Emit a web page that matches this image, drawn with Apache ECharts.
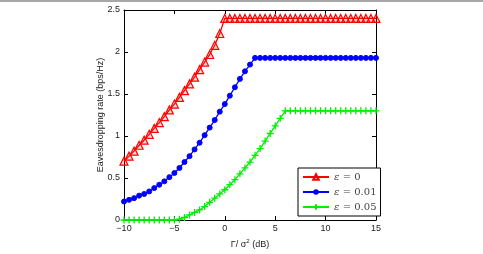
<!DOCTYPE html>
<html><head><meta charset="utf-8">
<script src="https://cdn.jsdelivr.net/npm/echarts@6/dist/echarts.min.js"></script>
<style>html,body{margin:0;padding:0;background:#fff}#c{width:483px;height:254px}</style>
</head><body><div id="c"></div>
<script>
const xValues = [-10,-9.5,-9,-8.5,-8,-7.5,-7,-6.5,-6,-5.5,-5,-4.5,-4,-3.5,-3,-2.5,-2,-1.5,-1,-0.5,0,0.5,1,1.5,2,2.5,3,3.5,4,4.5,5,5.5,6,6.5,7,7.5,8,8.5,9,9.5,10,10.5,11,11.5,12,12.5,13,13.5,14,14.5,15];
const seriesNames = ['ε = 0','ε = 0.01','ε = 0.05'];
const redVals = [0.70,0.76,0.82,0.89,0.95,1.02,1.09,1.16,1.23,1.31,1.38,1.46,1.54,1.62,1.70,1.79,1.88,1.97,2.08,2.22,2.40,2.40,2.40,2.40,2.40,2.40,2.40,2.40,2.40,2.40,2.40,2.40,2.40,2.40,2.40,2.40,2.40,2.40,2.40,2.40,2.40,2.40,2.40,2.40,2.40,2.40,2.40,2.40,2.40,2.40,2.40];
const blueVals = [0.22,0.24,0.26,0.29,0.31,0.34,0.38,0.42,0.46,0.51,0.56,0.62,0.69,0.76,0.84,0.92,1.01,1.10,1.19,1.29,1.38,1.48,1.58,1.68,1.77,1.85,1.93,1.93,1.93,1.93,1.93,1.93,1.93,1.93,1.93,1.93,1.93,1.93,1.93,1.93,1.93,1.93,1.93,1.93,1.93,1.93,1.93,1.93,1.93,1.93,1.93];
const greenVals = [0,0,0,0,0,0,0,0,0,0,0,0.01,0.03,0.06,0.09,0.12,0.16,0.21,0.26,0.31,0.36,0.42,0.48,0.55,0.62,0.69,0.77,0.85,0.94,1.03,1.12,1.21,1.30,1.30,1.30,1.30,1.30,1.30,1.30,1.30,1.30,1.30,1.30,1.30,1.30,1.30,1.30,1.30,1.30,1.30,1.30];
const xTicks = [-10,-5,0,5,10,15];
const yTicks = [0,0.5,1,1.5,2,2.5];

const pair = v => xValues.map((x,i)=>[x,v[i]]);
const chart = echarts.init(document.getElementById('c'));
const font = 'Liberation Sans, Arial, sans-serif';
const axisCommon = () => ({
  axisLine:{show:true,onZero:false,lineStyle:{color:'#000',width:1}},
  axisTick:{show:true,inside:true,length:4,lineStyle:{color:'#000'}},
  splitLine:{show:false}
});
const mk = (name, data, color, symbol, size, itemStyle) => ({
  name, type:'line', data: pair(data), symbol, symbolSize:size,
  showSymbol:true, animation:false,
  lineStyle:{color, width:1.3}, itemStyle,
  emphasis:{disabled:true}
});
chart.setOption({
  animation:false,
  grid:{left:124,right:107,top:10,bottom:34,show:false},
  xAxis:[
    Object.assign({type:'value',min:xTicks[0],max:xTicks[xTicks.length-1],interval:5,position:'bottom',
      axisLabel:{color:'#222',fontSize:9,fontFamily:font,margin:4,formatter:v=>String(v).replace('-','\u2212')},
      name:'{n|Γ/ σ}{s|2}{n| (dB)}',nameLocation:'middle',nameGap:15,
      nameTextStyle:{rich:{n:{fontSize:9,fontFamily:font,color:'#222'},s:{fontSize:6,fontFamily:font,color:'#222',verticalAlign:'bottom',padding:[0,0,7,0]}}}
    },axisCommon()),
    Object.assign({type:'value',min:xTicks[0],max:xTicks[xTicks.length-1],interval:5,position:'top',axisLabel:{show:false}},axisCommon())
  ],
  yAxis:[
    Object.assign({type:'value',min:yTicks[0],max:yTicks[yTicks.length-1],interval:0.5,position:'left',
      axisLabel:{color:'#222',fontSize:9,fontFamily:font,margin:4},
      name:'Eavesdropping rate (bps/Hz)',nameLocation:'middle',nameGap:19,nameMoveOverlap:false,
      nameTextStyle:{fontSize:9,fontFamily:font,color:'#222'}
    },axisCommon()),
    Object.assign({type:'value',min:yTicks[0],max:yTicks[yTicks.length-1],interval:0.5,position:'right',axisLabel:{show:false}},axisCommon())
  ],
  legend:{
    data:seriesNames, orient:'vertical', left:298, top:168, width:72,
    itemWidth:26, itemHeight:7, itemGap:3, padding:[3,4,3,4],
    backgroundColor:'#fff', borderColor:'#000', borderWidth:1,
    formatter: n => '{e|ε} {n|' + n.slice(2) + '}',
    textStyle:{rich:{
      e:{fontFamily:'DejaVu Serif, serif',fontStyle:'italic',fontSize:10,color:'#444'},
      n:{fontFamily:'DejaVu Serif, serif',fontSize:10,color:'#444'}
    }}
  },
  series:[
    mk(seriesNames[0], redVals, '#ff0000', 'triangle', 8, {color:'rgba(255,0,0,0.15)',borderColor:'#ff0000',borderWidth:1.2}),
    mk(seriesNames[1], blueVals, '#0000ff', 'circle', 5, {color:'#0000ff',borderColor:'#0000ff'}),
    mk(seriesNames[2], greenVals, '#00ee00', 'path://M0,5H10M5,0V10', 7, {color:'#00ee00',borderColor:'#00ee00',borderWidth:1.3})
  ],
  graphic:[{type:'rect',shape:{x:0,y:0,width:483,height:2},style:{fill:'#a8a8a8'},silent:true}]
});
</script></body></html>
